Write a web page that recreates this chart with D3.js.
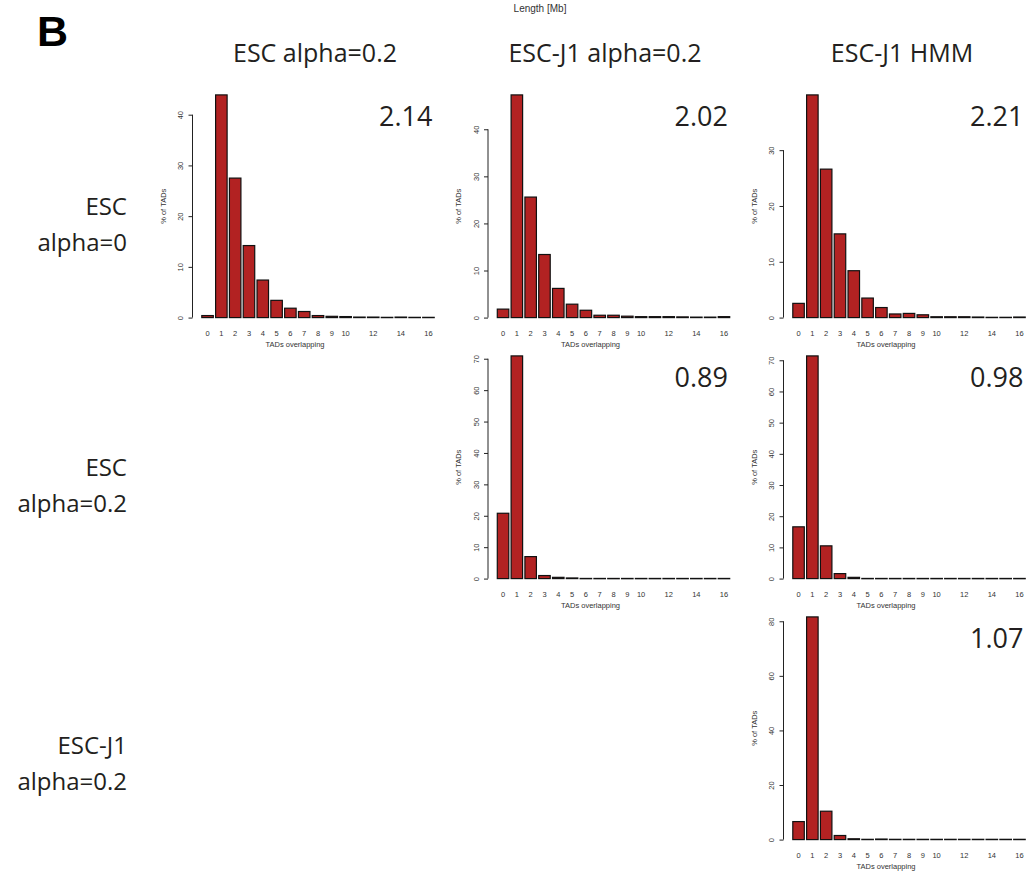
<!DOCTYPE html>
<html>
<head>
<meta charset="utf-8">
<script src="https://cdn.jsdelivr.net/npm/d3@7"></script>
<style>
    body { margin: 0; background: #fff; }
    .big-label { font-family: 'Open Sans', sans-serif; fill: #231f20; }
    .r-text { font-family: 'Liberation Sans', Arial, sans-serif; fill: #333; }
</style>
</head>
<body>
<div id="tad-overlap-plot"></div>
<script>
// categories: number of TADs overlapping
const overlapCounts = [0, 1, 2, 3, 4, 5, 6, 7, 8, 9, 10, 11, 12, 13, 14, 15, 16];
const xTickLabels = [0, 1, 2, 3, 4, 5, 6, 7, 8, 9, 10, 12, 14, 16];

const colTitles = ['ESC alpha=0.2', 'ESC-J1 alpha=0.2', 'ESC-J1 HMM'];
const rowTitles = [['ESC', 'alpha=0'], ['ESC', 'alpha=0.2'], ['ESC-J1', 'alpha=0.2']];

// % of TADs per panel (row, col)
const escA0VsEscA02 = [0.4, 43.9, 27.5, 14.2, 7.4, 3.4, 1.85, 1.2, 0.4, 0.25, 0.2, 0.1, 0.1, 0.05, 0.1, 0.05, 0.05];
const escA0VsJ1A02 = [1.8, 47.3, 25.6, 13.4, 6.2, 2.85, 1.56, 0.5, 0.5, 0.3, 0.2, 0.2, 0.2, 0.15, 0.1, 0.1, 0.2];
const escA0VsJ1Hmm = [2.55, 39.9, 26.6, 15.0, 8.4, 3.5, 1.8, 0.65, 0.75, 0.5, 0.15, 0.15, 0.15, 0.1, 0.05, 0.05, 0.1];
const escA02VsJ1A02 = [20.8, 70.9, 7.0, 0.97, 0.4, 0.2, 0.05, 0.05, 0.05, 0.05, 0.05, 0.05, 0.05, 0.05, 0.05, 0.05, 0.05];
const escA02VsJ1Hmm = [16.6, 71.4, 10.5, 1.6, 0.4, 0.05, 0.05, 0.05, 0.05, 0.05, 0.05, 0.05, 0.05, 0.05, 0.05, 0.05, 0.05];
const j1A02VsJ1Hmm = [6.6, 81.6, 10.4, 1.5, 0.3, 0.1, 0.2, 0.1, 0.1, 0.1, 0.1, 0.1, 0.1, 0.1, 0.1, 0.1, 0.1];

// mean number of overlapping TADs shown in each panel
const meanOverlap = ['2.14', '2.02', '2.21', '0.89', '0.98', '1.07'];

// y tick values per panel (R pretty)
const yTicks40 = [0, 10, 20, 30, 40];
const yTicks30 = [0, 10, 20, 30];
const yTicks70 = [0, 10, 20, 30, 40, 50, 60, 70];
const yTicks80 = [0, 20, 40, 60, 80];

const panels = [
    {row: 0, col: 0, values: escA0VsEscA02, ticks: yTicks40, mean: meanOverlap[0]},
    {row: 0, col: 1, values: escA0VsJ1A02, ticks: yTicks40, mean: meanOverlap[1]},
    {row: 0, col: 2, values: escA0VsJ1Hmm, ticks: yTicks30, mean: meanOverlap[2]},
    {row: 1, col: 1, values: escA02VsJ1A02, ticks: yTicks70, mean: meanOverlap[3]},
    {row: 1, col: 2, values: escA02VsJ1Hmm, ticks: yTicks70, mean: meanOverlap[4]},
    {row: 2, col: 2, values: j1A02VsJ1Hmm, ticks: yTicks80, mean: meanOverlap[5]},
];

function createPlot() {
    let svgWidth = 1026,
        svgHeight = 871,
        plotLeft = 192.5, colStep = 295.5,
        plotTop = 86, rowStep = 261,
        plotWidth = 251, plotHeight = 240.5,
        svg = d3.select('#tad-overlap-plot').append('svg')
                .attr('width', svgWidth)
                .attr('height', svgHeight);

    // panel letter and stray header
    svg.append('text')
       .attr('x', 37).attr('y', 46)
       .attr('font-family', 'Liberation Sans, Arial, sans-serif')
       .attr('font-weight', 'bold')
       .attr('font-size', 43)
       .attr('fill', '#000')
       .text('B');
    svg.append('text')
       .attr('class', 'r-text')
       .attr('x', 540).attr('y', 12)
       .attr('text-anchor', 'middle')
       .attr('font-size', 10)
       .attr('fill', '#111')
       .text('Length [Mb]');

    // column titles
    let titleX = [315, 605, 902];
    svg.selectAll('text.col-title')
       .data(colTitles).enter()
       .append('text')
       .attr('class', 'col-title big-label')
       .attr('x', (d, i) => titleX[i])
       .attr('y', 62)
       .attr('text-anchor', 'middle')
       .attr('font-size', 25)
       .text(d => d);

    // row titles
    let rowY = [215, 476, 754];
    rowTitles.forEach((lines, i) => {
        let t = svg.append('text')
                   .attr('class', 'big-label')
                   .attr('text-anchor', 'end')
                   .attr('font-size', 24);
        lines.forEach((line, j) => {
            t.append('tspan')
             .attr('x', 127)
             .attr('y', rowY[i] + 36 * j)
             .text(line);
        });
    });

    panels.forEach(p => {
        let left = plotLeft + p.col * colStep,
            top = plotTop + p.row * rowStep,
            maxV = d3.max(p.values),
            // R barplot: width 1, space 0.2, axes extended by 4%
            xScale = d3.scaleLinear().domain([-0.608, 21.208]).range([left, left + plotWidth]),
            yScale = d3.scaleLinear().domain([-0.04 * maxV, 1.04 * maxV]).range([top + plotHeight, top]),
            g = svg.append('g').attr('class', 'panel');

        // bars
        g.selectAll('rect')
         .data(p.values)
         .enter()
         .append('rect')
         .attr('x', (d, i) => xScale(0.2 + 1.2 * overlapCounts[i]))
         .attr('width', xScale(1) - xScale(0))
         .attr('y', d => yScale(d))
         .attr('height', d => Math.max(0.3, yScale(0) - yScale(d)))
         .attr('fill', '#b22222')
         .attr('stroke', '#111')
         .attr('stroke-width', 1.2);

        // y axis
        let yAxis = d3.axisLeft(yScale).tickValues(p.ticks).tickSize(4).tickSizeOuter(0);
        let ax = g.append('g')
                  .attr('transform', `translate(${left}, 0)`)
                  .call(yAxis);
        ax.select('path.domain').remove();
        ax.append('line')
          .attr('y1', yScale(p.ticks[0]))
          .attr('y2', yScale(p.ticks[p.ticks.length - 1]))
          .attr('stroke', '#222');
        ax.selectAll('.tick line').attr('stroke', '#222');
        ax.selectAll('.tick text')
          .attr('class', 'r-text')
          .attr('x', 0).attr('y', -12).attr('dy', '0.35em')
          .attr('text-anchor', 'middle')
          .attr('transform', 'rotate(-90)')
          .attr('font-size', 7.5)
          .attr('fill', '#444');

        g.append('text')
         .attr('class', 'r-text')
         .attr('transform', `translate(${left - 27}, ${top + plotHeight / 2}) rotate(-90)`)
         .attr('text-anchor', 'middle')
         .attr('font-size', 7.5)
         .attr('fill', '#444')
         .text('% of TADs');

        // x labels, no axis line
        g.selectAll('text.xlab')
         .data(xTickLabels)
         .enter()
         .append('text')
         .attr('class', 'xlab r-text')
         .attr('x', d => xScale(0.7 + 1.2 * d))
         .attr('y', top + plotHeight + 9.5)
         .attr('text-anchor', 'middle')
         .attr('font-size', 7.5)
         .attr('fill', '#444')
         .text(d => d);
        g.append('text')
         .attr('class', 'r-text')
         .attr('x', left + 102.5)
         .attr('y', top + plotHeight + 20)
         .attr('text-anchor', 'middle')
         .attr('font-size', 7.5)
         .attr('fill', '#444')
         .text('TADs overlapping');

        // mean overlap number
        g.append('text')
         .attr('class', 'big-label')
         .attr('x', left + 240)
         .attr('y', top + 40)
         .attr('text-anchor', 'end')
         .attr('font-size', 27)
         .text(p.mean);
    });
}

createPlot();
</script>
</body>
</html>
